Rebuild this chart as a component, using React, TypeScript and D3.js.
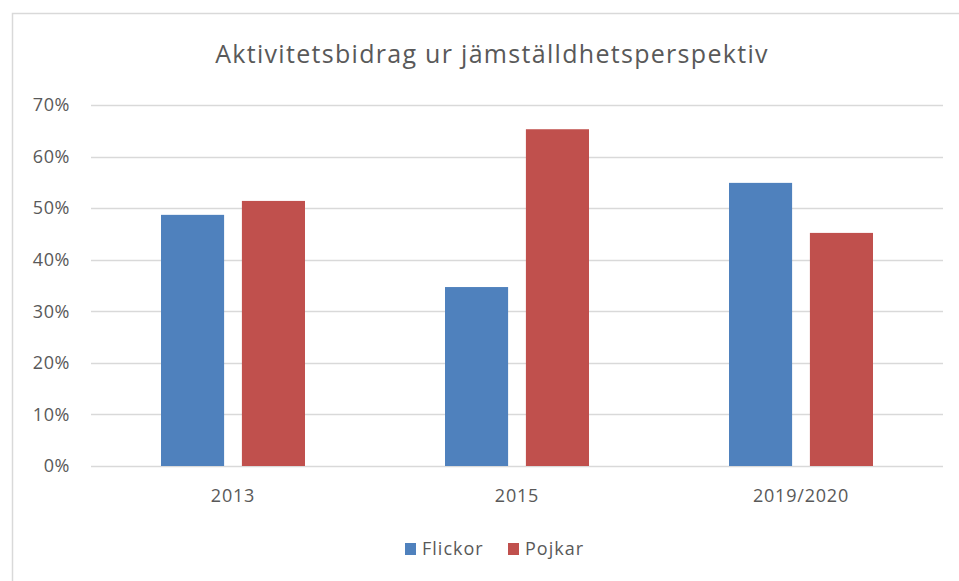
import React, { useRef, useEffect } from 'react';
import * as d3 from 'd3';

const categories = ['2013', '2015', '2019/2020'];
const seriesNames = ['Flickor', 'Pojkar'];
const flickor = [48.7, 34.7, 54.9];
const pojkar = [51.4, 65.3, 45.2];
const yTicks = [0, 10, 20, 30, 40, 50, 60, 70];
const colors = ['#4f81bd', '#c0504d'];

const W = 959;
const H = 581;
const FONT = '"Open Sans", "Liberation Sans", sans-serif';

const App = () => {
  const svgRef = useRef<SVGSVGElement>(null);

  useEffect(() => {
    const svg = d3.select(svgRef.current);
    svg.selectAll('*').remove();

    // chart frame
    svg.append('rect')
      .attr('x', 12.5).attr('y', 13.5)
      .attr('width', 960).attr('height', 600)
      .attr('fill', '#fff')
      .attr('stroke', '#d9d9d9')
      .attr('stroke-width', 1.5);

    const margin = { top: 105, right: 16, bottom: 115, left: 91 };
    const innerWidth = 943 - margin.left;
    const innerHeight = 466 - margin.top;

    const x = d3.scaleBand().domain(categories).range([0, innerWidth]).padding(0);
    const x1 = d3.scaleBand().domain(seriesNames).range([70, x.bandwidth() - 70]).paddingInner(0.22);
    const y = d3.scaleLinear().domain([0, 70]).range([innerHeight, 0]);

    svg.append('text')
      .attr('x', 492).attr('y', 63)
      .attr('text-anchor', 'middle')
      .attr('font-family', FONT)
      .attr('font-size', 25)
      .attr('letter-spacing', 1.3)
      .attr('fill', '#595959')
      .text('Aktivitetsbidrag ur jämställdhetsperspektiv');

    const g = svg.append('g').attr('transform', `translate(${margin.left},${margin.top})`);

    // grid
    g.selectAll('.grid')
      .data(yTicks)
      .join('line')
      .attr('x1', 0).attr('x2', innerWidth)
      .attr('y1', d => Math.round(y(d)) + 0.5).attr('y2', d => Math.round(y(d)) + 0.5)
      .attr('stroke', '#d9d9d9')
      .attr('stroke-width', 1.3);

    g.selectAll('.ytick')
      .data(yTicks)
      .join('text')
      .attr('x', -21).attr('y', d => y(d))
      .attr('dy', '0.35em')
      .attr('text-anchor', 'end')
      .attr('font-family', FONT)
      .attr('font-size', 18)
      .attr('letter-spacing', 0.6)
      .attr('fill', '#595959')
      .text(d => `${d}%`);

    const rows = categories.map((c, i) => ({ c, values: [flickor[i], pojkar[i]] }));

    const groups = g.selectAll('.cat')
      .data(rows)
      .join('g')
      .attr('transform', d => `translate(${x(d.c)},0)`);

    groups.selectAll('rect')
      .data(d => d.values.map((v, j) => ({ v, s: seriesNames[j], j })))
      .join('rect')
      .attr('x', d => x1(d.s) as number)
      .attr('width', x1.bandwidth())
      .attr('y', d => y(d.v))
      .attr('height', d => innerHeight - y(d.v))
      .attr('fill', d => colors[d.j]);

    groups.append('text')
      .attr('x', x.bandwidth() / 2)
      .attr('y', innerHeight + 30)
      .attr('dy', '0.35em')
      .attr('text-anchor', 'middle')
      .attr('font-family', FONT)
      .attr('font-size', 18)
      .attr('letter-spacing', 0.8)
      .attr('fill', '#595959')
      .text(d => d.c);

    // legend
    const legend = svg.append('g').attr('transform', 'translate(405,549)');
    const items = legend.selectAll('g')
      .data(seriesNames)
      .join('g')
      .attr('transform', (d, i) => `translate(${i * 103},0)`);
    items.append('rect')
      .attr('x', 0).attr('y', -6)
      .attr('width', 11).attr('height', 12)
      .attr('fill', (d, i) => colors[i]);
    items.append('text')
      .attr('x', 17).attr('y', 0)
      .attr('dy', '0.35em')
      .attr('font-family', FONT)
      .attr('font-size', 18)
      .attr('letter-spacing', 1)
      .attr('fill', '#595959')
      .text(d => d);
  }, []);

  return (
    <div style={{ position: 'absolute', left: 0, top: 0 }}>
      <svg ref={svgRef} width={W} height={H} style={{ display: 'block', background: '#fff' }}></svg>
    </div>
  );
};

export default App;
